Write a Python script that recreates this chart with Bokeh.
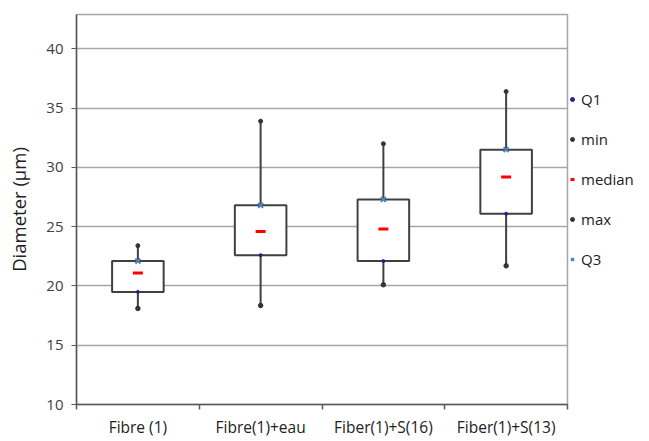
import numpy as np
from bokeh.plotting import figure
from bokeh.models import Range1d, FixedTicker, Legend, LegendItem, ColumnDataSource
from bokeh.embed import file_html
from bokeh.resources import INLINE

categories = ["Fibre (1)", "Fibre(1)+eau", "Fiber(1)+S(16)", "Fiber(1)+S(13)"]
q1 = [19.5, 22.6, 22.1, 26.1]
q3 = [22.1, 26.8, 27.3, 31.5]
median = [21.1, 24.6, 24.8, 29.2]
min_v = [18.1, 18.35, 20.1, 21.7]
max_v = [23.4, 33.9, 32.0, 36.4]
y_ticks = [10, 15, 20, 25, 30, 35, 40]

FONT = "Open Sans"
xc = np.arange(len(categories)) + 0.5
half = 0.21

src = ColumnDataSource(dict(x=xc, left=xc - half, right=xc + half, q1=q1, q3=q3,
                            med=median, mn=min_v, mx=max_v))

p = figure(frame_width=491, frame_height=390, output_backend="svg", toolbar_location=None,
           x_range=Range1d(0, len(categories)), y_range=Range1d(10, 42.9),
           min_border_left=76, min_border_top=14, min_border_bottom=0, min_border_right=0)
p.outline_line_color = "#a6a6a6"
p.outline_line_width = 1.5
p.background_fill_color = "white"
p.border_fill_color = "white"

# axes
p.yaxis.ticker = FixedTicker(ticks=y_ticks)
p.yaxis.axis_label = "Diameter (µm)"
p.yaxis.axis_label_text_font = FONT
p.yaxis.axis_label_text_font_size = "18.5px"
p.yaxis.axis_label_text_font_style = "normal"
p.yaxis.axis_label_text_color = "#222222"
p.yaxis.axis_label_standoff = 12
p.yaxis.major_label_text_font = FONT
p.yaxis.major_label_text_font_size = "15px"
p.yaxis.major_label_text_color = "#404040"
p.yaxis.major_label_standoff = 8
p.yaxis.axis_line_color = "#595959"
p.yaxis.axis_line_width = 1.5
p.yaxis.major_tick_line_color = "#595959"
p.yaxis.major_tick_out = 5
p.yaxis.major_tick_in = 0
p.yaxis.minor_tick_line_color = None

p.xaxis.ticker = FixedTicker(ticks=list(xc), minor_ticks=list(range(len(categories) + 1)))
p.xaxis.major_label_overrides = {float(x): c for x, c in zip(xc, categories)}
p.xaxis.major_label_text_font = FONT
p.xaxis.major_label_text_font_size = "15.5px"
p.xaxis.major_label_text_color = "#222222"
p.xaxis.major_label_standoff = 6
p.xaxis.axis_line_color = "#595959"
p.xaxis.axis_line_width = 1.5
p.xaxis.major_tick_line_color = None
p.xaxis.major_tick_out = 0
p.xaxis.minor_tick_line_color = "#595959"
p.xaxis.minor_tick_line_width = 1.5
p.xaxis.minor_tick_out = 5
p.xaxis.minor_tick_in = 0

p.xgrid.visible = False
p.ygrid.ticker = FixedTicker(ticks=y_ticks[1:])
p.ygrid.grid_line_color = "#a6a6a6"
p.ygrid.grid_line_width = 1.5

# whiskers and boxes
p.segment(x0="x", y0="mn", x1="x", y1="mx", source=src, line_color="#404040", line_width=2)
p.quad(left="left", right="right", bottom="q1", top="q3", source=src,
       fill_color="white", line_color="#404040", line_width=2)

r_q1 = p.scatter(x="x", y="q1", source=src, marker="circle", size=3,
                 fill_color="#1f1f9f", line_color="#1f1f9f")
r_min = p.scatter(x="x", y="mn", source=src, marker="circle", size=4.5,
                  fill_color="#333333", line_color="#333333")
r_med = p.scatter(x="x", y="med", source=src, marker="dash", size=10,
                  line_color="#ff0000", line_width=3)
r_max = p.scatter(x="x", y="mx", source=src, marker="circle", size=4,
                  fill_color="#333333", line_color="#333333")
r_q3 = p.scatter(x="x", y="q3", source=src, marker="x", size=7,
                 line_color="#4f81bd", line_width=2)

legend = Legend(items=[LegendItem(label="Q1", renderers=[r_q1]),
                       LegendItem(label="min", renderers=[r_min]),
                       LegendItem(label="median", renderers=[r_med]),
                       LegendItem(label="max", renderers=[r_max]),
                       LegendItem(label="Q3", renderers=[r_q3])],
                location=(0, 135))
legend.border_line_color = None
legend.background_fill_alpha = 0
legend.margin = 0
legend.padding = 0
legend.spacing = 20
legend.label_height = 20
legend.glyph_height = 20
legend.glyph_width = 10
legend.label_standoff = 4
legend.label_text_font = FONT
legend.label_text_font_size = "15px"
legend.label_text_color = "#222222"
legend.label_text_baseline = "middle"
p.add_layout(legend, "right")
p.min_border_right = 6

open("out.html", "w").write(file_html(p, INLINE))
